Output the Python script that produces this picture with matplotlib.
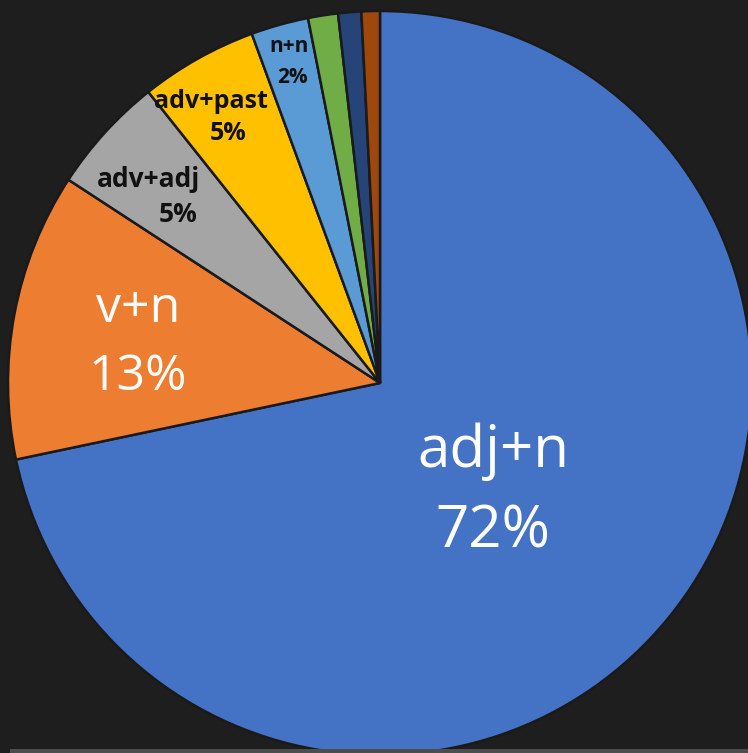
import matplotlib.pyplot as plt
from matplotlib.patches import Rectangle

# Slice shares (percent), clockwise from 12 o'clock
categories = ["adj+n", "v+n", "adv+adj", "adv+past", "n+n", "other1", "other2", "other3"]
shares = [71.7, 12.5, 5.1, 5.1, 2.5, 1.3, 1.0, 0.8]
colors = ["#4472C4", "#ED7D31", "#A5A5A5", "#FFC000", "#5B9BD5",
          "#70AD47", "#264478", "#9E480E"]

# labels shown on slices: (name, percent text)
shown = ["adj+n", "v+n", "adv+adj", "adv+past", "n+n"]
pct_text = ["72%", "13%", "5%", "5%", "2%"]

bg = "#1e1e1e"
W, H = 748, 753
cx, cy, R = 380, 383, 372  # pie centre and radius in pixels

fig = plt.figure(figsize=(W / 100, H / 100), dpi=100, facecolor=bg)
ax = fig.add_axes([0, 0, 1, 1])
ax.set_facecolor(bg)

# thin gray strip along the bottom edge
fig.patches.append(Rectangle((10 / W, 0), 1, 4 / H, transform=fig.transFigure,
                             facecolor="#4d4d4d", edgecolor="none", zorder=0))

ax.pie(shares, colors=colors, startangle=90, counterclock=False, radius=1,
       wedgeprops=dict(edgecolor="#1a1a1a", linewidth=1.8))
ax.set_aspect("auto")
ax.set_xlim(-cx / R, (W - cx) / R)
ax.set_ylim(-(H - cy) / R, cy / R)
ax.axis("off")

font = "Open Sans"


def px(x, y):
    return (x - cx) / R, (cy - y) / R


# big white labels
for name, pct, (x, y), size in [(shown[0], pct_text[0], (493, 492), 42),
                                (shown[1], pct_text[1], (138, 343), 36)]:
    ax.text(*px(x, y), f"{name}\n{pct}", color="white", fontsize=size,
            ha="center", va="center", family=font, linespacing=1.5)

# small bold dark labels
small = [
    (shown[2], pct_text[2], (148, 179), (178, 214), 19),
    (shown[3], pct_text[3], (211, 101), (228, 133), 18),
    (shown[4], pct_text[4], (289, 46), (292, 77), 15),
]
for name, pct, p1, p2, size in small:
    ax.text(*px(*p1), name, color="#111111", fontsize=size, fontweight="bold",
            ha="center", va="center", family=font)
    ax.text(*px(*p2), pct, color="#111111", fontsize=size, fontweight="bold",
            ha="center", va="center", family=font)

fig.savefig("out.png", dpi=100, facecolor=bg)
